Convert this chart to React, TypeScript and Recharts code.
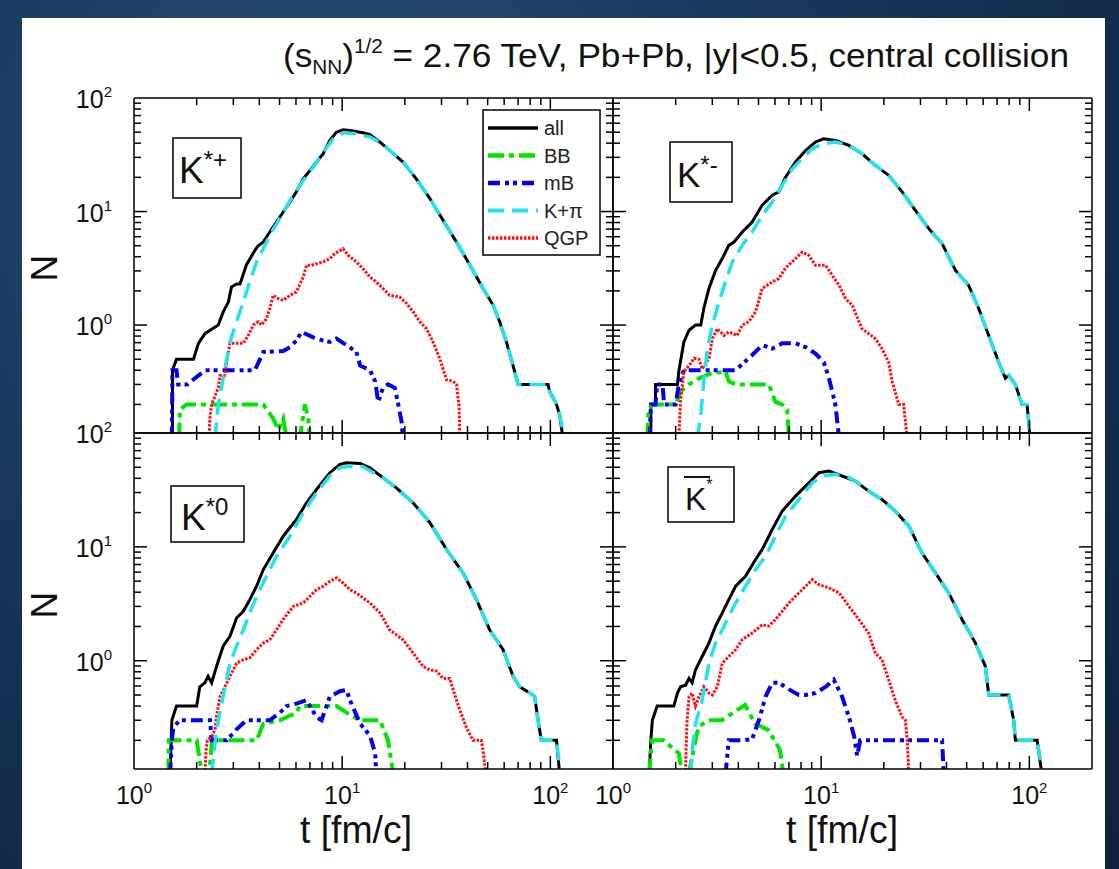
import React from "react";
import { LineChart, Line, XAxis, YAxis } from "recharts";

type Pt = [number, number];

const FONT = "'Liberation Sans', Arial, Helvetica, sans-serif";

const X_DOMAIN: [number, number] = [1, 200];
const Y_DOMAIN: [number, number] = [0.112, 100];
const X_TICKS = [1, 2, 3, 4, 5, 6, 7, 8, 9, 10, 20, 30, 40, 50, 60, 70, 80, 90, 100, 200];
const Y_TICKS = [
  0.112, 0.2, 0.3, 0.4, 0.5, 0.6, 0.7, 0.8, 0.9, 1, 2, 3, 4, 5, 6, 7, 8, 9, 10, 20, 30, 40, 50, 60,
  70, 80, 90, 100,
];

const TITLE = " = 2.76 TeV, Pb+Pb, |y|<0.5, central collision";
const X_LABEL = "t [fm/c]";
const Y_LABEL = "N";

// ---- K*+ ----
const kPlusAll: Pt[] = [
  [1.53, 0.1], [1.53, 0.4], [1.6, 0.5], [1.93, 0.5], [2.04, 0.69], [2.19, 0.84], [2.32, 0.9],
  [2.54, 1.0], [2.68, 1.3], [2.84, 1.6], [2.94, 2.17], [3.11, 2.3], [3.23, 2.3], [3.47, 3.4],
  [3.81, 4.55], [3.95, 5.0], [4.18, 5.4], [4.49, 6.6], [4.84, 8.1], [5.21, 9.9], [5.61, 12.1],
  [6.03, 14.9], [6.5, 19.4], [7.0, 23], [7.53, 27.3], [8.11, 32.3], [8.73, 42.3], [9.39, 50],
  [10.1, 52.5], [10.9, 51.8], [12.6, 49.4], [13.6, 47.5], [15.2, 40.9], [16.9, 34.5], [19.6, 27.3],
  [22.7, 19.4], [26.4, 13.0], [30.5, 8.4], [35.4, 5.4], [41, 3.4], [47.5, 2.1], [53.1, 1.5],
  [57.1, 1.07], [61.5, 0.71], [66.2, 0.44], [70, 0.3], [97.5, 0.3], [99.3, 0.26], [107, 0.2],
  [111, 0.16], [115, 0.1],
];
const kPlusBB: Pt[] = [
  [1.65, 0.1], [1.66, 0.18], [1.79, 0.2], [4.18, 0.2], [4.66, 0.15], [4.93, 0.12], [5.21, 0.15],
  [5.41, 0.1], [6.26, 0.1], [6.62, 0.2], [6.87, 0.15], [7.0, 0.1],
];
const kPlusMB: Pt[] = [
  [1.52, 0.1], [1.53, 0.4], [1.6, 0.4], [1.63, 0.3], [1.8, 0.3], [2.2, 0.4], [3.81, 0.4],
  [4.18, 0.58], [5.21, 0.59], [5.61, 0.64], [6.03, 0.73], [6.38, 0.87], [7.26, 0.78], [8.11, 0.73],
  [8.73, 0.71], [9.39, 0.76], [10.5, 0.665], [11.7, 0.58], [12.2, 0.44], [13.6, 0.4], [14.4, 0.32],
  [14.9, 0.21], [15.7, 0.28], [16.6, 0.3], [17.9, 0.28], [18.6, 0.2], [19.3, 0.14], [19.6, 0.1],
];
const kPlusKpi: Pt[] = [
  [2.45, 0.1], [2.54, 0.2], [2.73, 0.41], [2.89, 0.71], [3.11, 1.07], [3.35, 1.6], [3.6, 2.4],
  [3.88, 3.6], [4.18, 4.7], [4.49, 6.2], [4.84, 7.8], [5.21, 9.9], [5.82, 13.9], [6.5, 18.8],
  [7.26, 24.6], [8.11, 33.3], [9.06, 43.8], [10.1, 49.4], [11.7, 48.4], [13.6, 45.2], [15.2, 40.9],
  [16.9, 34.5], [19.6, 27.3], [22.7, 19.4], [26.4, 13.0], [30.5, 8.4], [35.4, 5.4], [41, 3.4],
  [47.5, 2.1], [53.1, 1.5], [57.1, 1.07], [61.5, 0.71], [66.2, 0.44], [70, 0.3], [97.5, 0.3],
  [99.3, 0.26], [107, 0.2], [111, 0.16], [117, 0.1],
];
const kPlusQGP: Pt[] = [
  [2.29, 0.1], [2.32, 0.16], [2.36, 0.2], [2.54, 0.28], [2.59, 0.36], [2.73, 0.36], [2.79, 0.47],
  [2.89, 0.69], [3.35, 0.69], [3.54, 0.81], [3.74, 1.0], [3.95, 1.07], [4.1, 1.0], [4.33, 1.14],
  [4.49, 1.4], [4.66, 1.83], [4.93, 1.71], [5.21, 1.65], [5.61, 1.83], [6.03, 1.96], [6.5, 2.65],
  [6.74, 3.36], [7.12, 3.36], [7.53, 3.47], [8.11, 3.6], [8.73, 3.85], [9.22, 4.26], [10.1, 4.7],
  [10.7, 4.11], [11.7, 3.6], [12.6, 3.14], [13.6, 2.65], [14.6, 2.4], [15.7, 2.1], [16.9, 1.83],
  [18.9, 1.77], [20.4, 1.55], [21.9, 1.31], [23.6, 1.07], [25.4, 0.93], [27.3, 0.71], [29.4, 0.51],
  [31.7, 0.33], [34.1, 0.32], [35.4, 0.3], [36, 0.23], [36.5, 0.19], [36.7, 0.1],
];

// ---- K*- ----
const kMinusAll: Pt[] = [
  [1.52, 0.1], [1.52, 0.2], [1.6, 0.2], [1.6, 0.3], [2.04, 0.3], [2.07, 0.39], [2.19, 0.71],
  [2.32, 0.9], [2.49, 1.0], [2.64, 1.0], [2.73, 1.4], [2.89, 2.1], [3.11, 3.03], [3.35, 3.85],
  [3.6, 5.04], [3.81, 5.39], [4.18, 6.6], [4.66, 8.09], [5.21, 11.4], [5.82, 13.9], [6.26, 14.9],
  [6.74, 20.1], [7.53, 27.3], [8.41, 34.5], [9.39, 40.9], [10.3, 43.8], [11.7, 42.3], [13.6, 38.2],
  [15.7, 32.3], [18.2, 25.5], [21.1, 20.8], [24.5, 14.9], [28.4, 10.2], [32.9, 7.07], [38.1, 5.21],
  [44.2, 3.03], [51.1, 2.24], [57.1, 1.4], [63.8, 0.81], [71.3, 0.47], [76.7, 0.34], [79.6, 0.36],
  [85.7, 0.3], [92.2, 0.2], [97.5, 0.2], [101, 0.1],
];
const kMinusBB: Pt[] = [
  [1.46, 0.1], [1.48, 0.18], [1.545, 0.2], [2.0, 0.2], [2.11, 0.26], [2.32, 0.3], [2.59, 0.34],
  [2.89, 0.37], [3.47, 0.39], [3.6, 0.32], [3.88, 0.3], [4.84, 0.3], [5.61, 0.3], [6.03, 0.21],
  [6.5, 0.2], [6.87, 0.18], [7.0, 0.1],
];
const kMinusMB: Pt[] = [
  [1.5, 0.1], [1.52, 0.2], [1.6, 0.2], [1.63, 0.3], [1.73, 0.3], [1.76, 0.2], [2.0, 0.2],
  [2.07, 0.3], [2.19, 0.4], [3.88, 0.4], [4.49, 0.51], [5.21, 0.665], [5.82, 0.62], [6.5, 0.69],
  [7.53, 0.69], [8.41, 0.64], [9.39, 0.56], [10.3, 0.47], [10.9, 0.34], [11.7, 0.2], [12.2, 0.1],
];
const kMinusKpi: Pt[] = [
  [2.54, 0.1], [2.64, 0.16], [2.73, 0.32], [2.84, 0.62], [3.0, 1.0], [3.23, 1.6], [3.47, 2.4],
  [3.74, 3.6], [4.18, 5.04], [4.66, 6.6], [5.21, 9.25], [5.82, 12.1], [6.5, 17], [7.26, 23.8],
  [8.11, 29.2], [9.06, 35.7], [10.1, 39.5], [11.7, 40.9], [13.6, 38.2], [15.7, 32.3], [18.2, 25.5],
  [21.1, 20.8], [24.5, 14.9], [28.4, 10.2], [32.9, 7.07], [38.1, 5.21], [44.2, 3.03], [51.1, 2.24],
  [57.1, 1.4], [63.8, 0.81], [71.3, 0.47], [76.7, 0.34], [79.6, 0.36], [85.7, 0.3], [92.2, 0.2],
  [97.5, 0.2], [101, 0.1],
];
const kMinusQGP: Pt[] = [
  [2.07, 0.1], [2.11, 0.21], [2.19, 0.39], [2.32, 0.44], [2.45, 0.51], [2.59, 0.5], [2.68, 0.41],
  [2.89, 0.51], [3.0, 0.76], [3.17, 0.93], [3.41, 0.81], [3.6, 0.87], [3.95, 0.81], [4.18, 1.0],
  [4.49, 1.07], [4.84, 1.31], [5.21, 2.1], [5.82, 2.4], [6.26, 2.57], [6.74, 3.18], [7.53, 3.85],
  [8.11, 4.4], [8.73, 4.11], [9.39, 3.36], [10.5, 3.36], [11.3, 2.74], [12.2, 2.24], [13.1, 1.71],
  [14.1, 1.5], [15.7, 0.93], [16.9, 0.84], [18.2, 0.76], [19.6, 0.62], [21.1, 0.47], [21.9, 0.32],
  [23.6, 0.2], [24.9, 0.2], [25.9, 0.1],
];

// ---- K*0 ----
const kZeroAll: Pt[] = [
  [1.49, 0.1], [1.52, 0.3], [1.6, 0.4], [2.0, 0.4], [2.07, 0.59], [2.19, 0.64], [2.27, 0.73],
  [2.36, 0.64], [2.49, 0.89], [2.68, 1.34], [2.89, 1.64], [3.11, 2.37], [3.35, 2.72], [3.6, 3.44],
  [3.88, 4.51], [4.18, 6.32], [4.66, 8.85], [5.21, 12.4], [6.03, 17.4], [6.74, 24.4], [7.53, 31.9],
  [8.73, 44.8], [9.75, 53], [10.5, 54.8], [12.2, 53.9], [13.6, 49.5], [15.7, 40.5], [18.2, 33],
  [21.9, 24.4], [26.4, 16.3], [31.7, 9.5], [38.1, 5.9], [44.2, 3.44], [51.1, 1.87], [59.3, 1.25],
  [66.2, 0.73], [71.3, 0.59], [79.6, 0.52], [84.1, 0.485], [87.3, 0.3], [90.5, 0.2], [107, 0.2],
  [111, 0.1],
];
const kZeroBB: Pt[] = [
  [1.46, 0.1], [1.47, 0.2], [2.0, 0.2], [2.05, 0.15], [2.12, 0.1], [2.3, 0.1], [2.37, 0.2],
  [3.88, 0.2], [4.18, 0.28], [5.02, 0.3], [6.03, 0.35], [6.26, 0.4], [9.39, 0.4], [10.5, 0.35],
  [12.2, 0.3], [15.2, 0.3], [16.6, 0.2], [17.6, 0.1],
];
const kZeroMB: Pt[] = [
  [1.49, 0.1], [1.52, 0.2], [1.545, 0.26], [1.66, 0.3], [2.32, 0.3], [2.36, 0.2], [2.79, 0.2],
  [3.11, 0.25], [3.47, 0.3], [4.49, 0.3], [5.02, 0.35], [5.41, 0.4], [6.03, 0.42], [6.74, 0.45],
  [7.53, 0.32], [7.96, 0.3], [8.73, 0.485], [9.75, 0.54], [10.5, 0.555], [10.9, 0.45], [12.2, 0.28],
  [13.6, 0.22], [14.4, 0.154], [14.6, 0.1],
];
const kZeroKpi: Pt[] = [
  [2.36, 0.1], [2.45, 0.19], [2.54, 0.3], [2.68, 0.485], [2.89, 0.95], [3.11, 1.34], [3.35, 1.87],
  [3.6, 2.63], [3.88, 3.68], [4.33, 5.52], [4.84, 8.28], [5.61, 12.4], [6.5, 19.9], [7.53, 29.9],
  [8.73, 41.9], [9.75, 49.5], [10.9, 51.3], [12.6, 50.6], [14.6, 43.3], [15.7, 40.5], [18.2, 33],
  [21.9, 24.4], [26.4, 16.3], [31.7, 9.5], [38.1, 5.9], [44.2, 3.44], [51.1, 1.87], [59.3, 1.25],
  [66.2, 0.73], [71.3, 0.59], [79.6, 0.52], [84.1, 0.485], [87.3, 0.3], [90.5, 0.2], [107, 0.2],
  [112, 0.1],
];
const kZeroQGP: Pt[] = [
  [2.19, 0.1], [2.22, 0.165], [2.25, 0.2], [2.36, 0.216], [2.45, 0.247], [2.49, 0.32], [2.59, 0.485],
  [2.79, 0.64], [2.89, 0.73], [3.11, 0.95], [3.35, 1.02], [3.6, 1.06], [3.88, 1.25], [4.18, 1.43],
  [4.49, 1.53], [4.84, 1.87], [5.21, 2.3], [5.82, 3.0], [6.5, 3.21], [7.0, 3.68], [7.53, 4.21],
  [8.11, 4.51], [8.73, 4.99], [9.39, 5.34], [10.1, 4.82], [10.9, 4.21], [11.7, 3.94], [12.6, 3.56],
  [13.6, 3.21], [15.2, 2.63], [16.9, 1.87], [19.6, 1.53], [21.9, 1.17], [24.5, 0.89], [26.4, 0.83],
  [28.4, 0.81], [30.5, 0.7], [32.9, 0.7], [34.1, 0.56], [36.7, 0.37], [39.5, 0.26], [42.5, 0.2],
  [46.6, 0.2], [47.5, 0.165], [49, 0.1],
];

// ---- anti-K* ----
const kBarAll: Pt[] = [
  [1.49, 0.1], [1.52, 0.2], [1.545, 0.3], [1.63, 0.4], [1.96, 0.4], [2.04, 0.52], [2.11, 0.59],
  [2.23, 0.61], [2.32, 0.7], [2.4, 0.64], [2.49, 0.83], [2.68, 1.09], [2.89, 1.43], [3.11, 2.02],
  [3.35, 2.63], [3.6, 3.44], [3.88, 4.51], [4.33, 5.52], [4.84, 7.74], [5.21, 9.5], [5.82, 14.2],
  [6.5, 20.6], [7.53, 27.9], [8.73, 36.5], [9.75, 44.8], [10.9, 46.3], [12.6, 41.9], [14.6, 37.8],
  [16.9, 30.9], [19.6, 26.1], [22.7, 20.6], [26.4, 15.2], [30.5, 8.85], [35.4, 5.9], [41, 3.94],
  [47.5, 2.3], [55.1, 1.43], [61.5, 0.89], [63.8, 0.5], [79.6, 0.5], [84.1, 0.3], [85.7, 0.2],
  [109, 0.2], [115, 0.1],
];
const kBarBB: Pt[] = [
  [1.49, 0.1], [1.54, 0.2], [1.75, 0.2], [2.07, 0.154], [2.15, 0.1], [2.31, 0.1], [2.49, 0.2],
  [2.58, 0.264], [2.88, 0.3], [3.33, 0.3], [4.31, 0.41], [4.82, 0.28], [5.57, 0.247], [6.34, 0.165],
  [6.58, 0.1],
];
const kBarMB: Pt[] = [
  [3.47, 0.1], [3.6, 0.2], [4.18, 0.2], [4.66, 0.205], [5.02, 0.3], [5.41, 0.485], [5.82, 0.64],
  [6.26, 0.64], [7.0, 0.56], [7.82, 0.5], [8.41, 0.5], [9.39, 0.52], [10.5, 0.59], [11.5, 0.68],
  [12.6, 0.485], [13.6, 0.32], [14.4, 0.217], [14.9, 0.146], [15.4, 0.2], [17.6, 0.2], [38.1, 0.2],
  [38.8, 0.1],
];
const kBarKpi: Pt[] = [
  [2.36, 0.1], [2.4, 0.165], [2.49, 0.28], [2.68, 0.45], [2.89, 0.95], [3.11, 1.43], [3.35, 1.87],
  [3.6, 2.45], [3.88, 3.21], [4.33, 4.51], [4.84, 6.32], [5.41, 8.28], [6.03, 12.4], [6.74, 18.6],
  [7.82, 26.1], [9.06, 36.5], [10.1, 41.9], [11.7, 43.3], [13.6, 40.5], [14.6, 37.8], [16.9, 30.9],
  [19.6, 26.1], [22.7, 20.6], [26.4, 15.2], [30.5, 8.85], [35.4, 5.9], [41, 3.94], [47.5, 2.3],
  [55.1, 1.43], [61.5, 0.89], [63.8, 0.5], [79.6, 0.5], [84.1, 0.3], [85.7, 0.2], [109, 0.2],
  [116, 0.1],
];
const kBarQGP: Pt[] = [
  [2.23, 0.1], [2.25, 0.2], [2.27, 0.3], [2.32, 0.485], [2.4, 0.52], [2.49, 0.4], [2.59, 0.485],
  [2.73, 0.59], [2.89, 0.52], [3.0, 0.5], [3.17, 0.59], [3.35, 0.95], [3.6, 1.09], [3.88, 1.25],
  [4.18, 1.53], [4.66, 1.75], [5.21, 2.07], [5.61, 2.02], [6.03, 2.3], [6.5, 2.72], [7.0, 3.21],
  [7.53, 3.68], [8.11, 4.21], [8.73, 4.82], [9.06, 5.16], [9.75, 4.66], [10.9, 4.36], [12.2, 3.94],
  [13.6, 3.0], [15.2, 2.3], [16.9, 1.75], [18.2, 1.17], [19.6, 1.02], [21.1, 0.68], [22.7, 0.45],
  [24.5, 0.32], [25.4, 0.3], [25.9, 0.2], [26.4, 0.1],
];

// drawing order: all first, cyan K+pi on top
const SERIES = [
  { key: "all", name: "all", color: "#000000", width: 3, dash: undefined as string | undefined },
  { key: "bb", name: "BB", color: "#00e400", width: 4, dash: "16 5 5 5" },
  { key: "mb", name: "mB", color: "#0000f0", width: 4, dash: "12 5 4 4 4 5" },
  { key: "qgp", name: "QGP", color: "#ff1010", width: 3, dash: "2.5 1.5" },
  { key: "kpi", name: "K+\u03c0", color: "#22e2f0", width: 3.5, dash: "16 8" },
];
const LEGEND_ORDER = ["all", "bb", "mb", "kpi", "qgp"];

const PANELS = [
  {
    id: "kplus", left: 134, top: 98, h: 335, xLabels: false, yLabels: [1, 10, 100], edgeLabel: true,
    data: { all: kPlusAll, bb: kPlusBB, mb: kPlusMB, kpi: kPlusKpi, qgp: kPlusQGP },
  },
  {
    id: "kminus", left: 613, top: 98, h: 335, xLabels: false, yLabels: [], edgeLabel: false,
    data: { all: kMinusAll, bb: kMinusBB, mb: kMinusMB, kpi: kMinusKpi, qgp: kMinusQGP },
  },
  {
    id: "kzero", left: 134, top: 433, h: 336, xLabels: true, yLabels: [1, 10], edgeLabel: false,
    data: { all: kZeroAll, bb: kZeroBB, mb: kZeroMB, kpi: kZeroKpi, qgp: kZeroQGP },
  },
  {
    id: "kbar", left: 613, top: 433, h: 336, xLabels: true, yLabels: [], edgeLabel: false,
    data: { all: kBarAll, bb: kBarBB, mb: kBarMB, kpi: kBarKpi, qgp: kBarQGP },
  },
];

const PW = 479;
const ML = 80;
const MR = 14;
const MT = 14;
const MB = 60;

const rows = (pts: Pt[]) => pts.map(([t, n]) => ({ t, n }));

function isDecade(v: number) {
  const l = Math.log10(v);
  return Math.abs(l - Math.round(l)) < 1e-9;
}

function Pow({ x, y, exp, anchor }: { x: number; y: number; exp: string; anchor: string }) {
  return (
    <text x={x} y={y} textAnchor={anchor as any} fontFamily={FONT} fontSize={25} fill="#111">
      10
      <tspan dy={-11} fontSize={15}>
        {exp}
      </tspan>
    </text>
  );
}

function XTick(props: any) {
  const { x, y, payload, side, labels } = props;
  const v = payload.value;
  const major = isDecade(v);
  const dir = side === "bottom" ? -1 : 1;
  const len = major ? 13 : 7;
  const edge = v === X_DOMAIN[0] || v === X_DOMAIN[1];
  return (
    <g>
      {!edge && (
        <line x1={x} y1={y} x2={x} y2={y + dir * len} stroke="#000" strokeWidth={1.5} />
      )}
      {labels && major && (
        <Pow x={x} y={y + 35} exp={String(Math.round(Math.log10(v)))} anchor="middle" />
      )}
    </g>
  );
}

function YTick(props: any) {
  const { x, y, payload, side, labels, edgeLabel } = props;
  const v = payload.value;
  if (v === Y_DOMAIN[0]) {
    return edgeLabel ? <Pow x={x - 22} y={y + 10} exp="2" anchor="end" /> : <g />;
  }
  const major = isDecade(v);
  const dir = side === "left" ? 1 : -1;
  const len = major ? 13 : 7;
  const edge = v === Y_DOMAIN[1];
  const showLabel = labels && labels.indexOf(v) >= 0;
  return (
    <g>
      {!edge && (
        <line x1={x} y1={y} x2={x + dir * len} y2={y} stroke="#000" strokeWidth={1.5} />
      )}
      {showLabel && (
        <Pow x={x - 22} y={y + 10} exp={String(Math.round(Math.log10(v)))} anchor="end" />
      )}
    </g>
  );
}

const axisLine = { stroke: "#000", strokeWidth: 1.5 };

function Panel({ p }: { p: (typeof PANELS)[number] }) {
  return (
    <div style={{ position: "absolute", left: p.left - ML, top: p.top - MT }}>
      <LineChart
        width={PW + ML + MR}
        height={p.h + MT + MB}
        margin={{ top: 0, right: 0, bottom: 0, left: 0 }}
      >
        <XAxis
          xAxisId="b"
          dataKey="t"
          type="number"
          scale="log"
          domain={X_DOMAIN}
          allowDataOverflow
          ticks={X_TICKS}
          interval={0}
          orientation="bottom"
          height={MB}
          tickSize={0}
          tickMargin={0}
          tickLine={false}
          axisLine={axisLine}
          tick={<XTick side="bottom" labels={p.xLabels} />}
        />
        <XAxis
          xAxisId="t"
          dataKey="t"
          type="number"
          scale="log"
          domain={X_DOMAIN}
          allowDataOverflow
          ticks={X_TICKS}
          interval={0}
          orientation="top"
          height={MT}
          tickSize={0}
          tickMargin={0}
          tickLine={false}
          axisLine={axisLine}
          tick={<XTick side="top" labels={false} />}
        />
        <YAxis
          yAxisId="l"
          type="number"
          scale="log"
          domain={Y_DOMAIN}
          allowDataOverflow
          ticks={Y_TICKS}
          interval={0}
          orientation="left"
          width={ML}
          tickSize={0}
          tickMargin={0}
          tickLine={false}
          axisLine={axisLine}
          tick={<YTick side="left" labels={p.yLabels} edgeLabel={p.edgeLabel} />}
        />
        <YAxis
          yAxisId="r"
          type="number"
          scale="log"
          domain={Y_DOMAIN}
          allowDataOverflow
          ticks={Y_TICKS}
          interval={0}
          orientation="right"
          width={MR}
          tickSize={0}
          tickMargin={0}
          tickLine={false}
          axisLine={axisLine}
          tick={<YTick side="right" labels={[]} edgeLabel={false} />}
        />
        {SERIES.map((s) => (
          <Line
            key={s.key}
            xAxisId="b"
            yAxisId="l"
            data={rows((p.data as any)[s.key])}
            dataKey="n"
            name={s.name}
            type="linear"
            stroke={s.color}
            strokeWidth={s.width}
            strokeDasharray={s.dash}
            dot={false}
            activeDot={false}
            isAnimationActive={false}
          />
        ))}
      </LineChart>
    </div>
  );
}

function Overlay() {
  const txt = { fontFamily: FONT, fill: "#111" };
  return (
    <svg
      width={1119}
      height={869}
      style={{ position: "absolute", left: 0, top: 0, pointerEvents: "none" }}
    >
      {/* title */}
      <text x={283} y={67} fontSize={34} {...txt} textLength={786} lengthAdjust="spacingAndGlyphs">
        (s
        <tspan dy={7} fontSize={20}>
          NN
        </tspan>
        <tspan dy={-7}>)</tspan>
        <tspan dy={-14} fontSize={20}>
          1/2
        </tspan>
        <tspan dy={14}>{TITLE}</tspan>
      </text>

      {/* axis titles */}
      <text x={57} y={268} fontSize={37} {...txt} textAnchor="middle" transform="rotate(-90 57 268)">
        {Y_LABEL}
      </text>
      <text x={57} y={605} fontSize={37} {...txt} textAnchor="middle" transform="rotate(-90 57 605)">
        {Y_LABEL}
      </text>
      <text x={300} y={843} fontSize={38} {...txt} textLength={112} lengthAdjust="spacingAndGlyphs">
        {X_LABEL}
      </text>
      <text x={786} y={843} fontSize={38} {...txt} textLength={112} lengthAdjust="spacingAndGlyphs">
        {X_LABEL}
      </text>

      {/* panel tags */}
      <rect x={173} y={138} width={68} height={60} fill="#fff" stroke="#000" strokeWidth={1.5} />
      <text x={179} y={183} fontSize={37} {...txt}>
        K
        <tspan dy={-15} fontSize={24}>
          *+
        </tspan>
      </text>
      <rect x={670} y={142} width={62} height={60} fill="#fff" stroke="#000" strokeWidth={1.5} />
      <text x={677} y={187} fontSize={35} {...txt}>
        K
        <tspan dy={-14} fontSize={24}>
          *-
        </tspan>
      </text>
      <rect x={171} y={486} width={73} height={56} fill="#fff" stroke="#000" strokeWidth={1.5} />
      <text x={181} y={530} fontSize={37} {...txt}>
        K
        <tspan dy={-15} fontSize={24}>
          *0
        </tspan>
      </text>
      <rect x={668} y={467} width={66} height={55} fill="#fff" stroke="#000" strokeWidth={1.5} />
      <line x1={684} y1={477} x2={710} y2={477} stroke="#111" strokeWidth={2} />
      <text x={685} y={510} fontSize={32} {...txt}>
        K
        <tspan dy={-20} fontSize={16}>
          *
        </tspan>
      </text>

      {/* legend */}
      <rect x={483} y={110} width={117} height={145} fill="#fff" stroke="#000" strokeWidth={1.5} />
      {LEGEND_ORDER.map((k, i) => {
        const s = SERIES.find((q) => q.key === k)!;
        const y = 128 + i * 27.5;
        return (
          <g key={k}>
            <line
              x1={488}
              y1={y}
              x2={538}
              y2={y}
              stroke={s.color}
              strokeWidth={s.width + 0.5}
              strokeDasharray={s.dash}
            />
            <text x={544} y={y + 7} fontSize={20} {...txt} fill="#222">
              {s.name}
            </text>
          </g>
        );
      })}
    </svg>
  );
}

export default function App() {
  return (
    <div
      style={{
        position: "absolute",
        left: 0,
        top: 0,
        width: 1119,
        height: 869,
        overflow: "hidden",
        background: "radial-gradient(ellipse at 30% 20%, #28507a 0%, #173659 45%, #0c2240 100%)",
      }}
    >
      <div
        style={{
          position: "absolute",
          left: 22,
          top: 18,
          width: 1083,
          height: 860,
          background: "#fff",
        }}
      />
      {PANELS.map((p) => (
        <Panel key={p.id} p={p} />
      ))}
      <Overlay />
    </div>
  );
}
